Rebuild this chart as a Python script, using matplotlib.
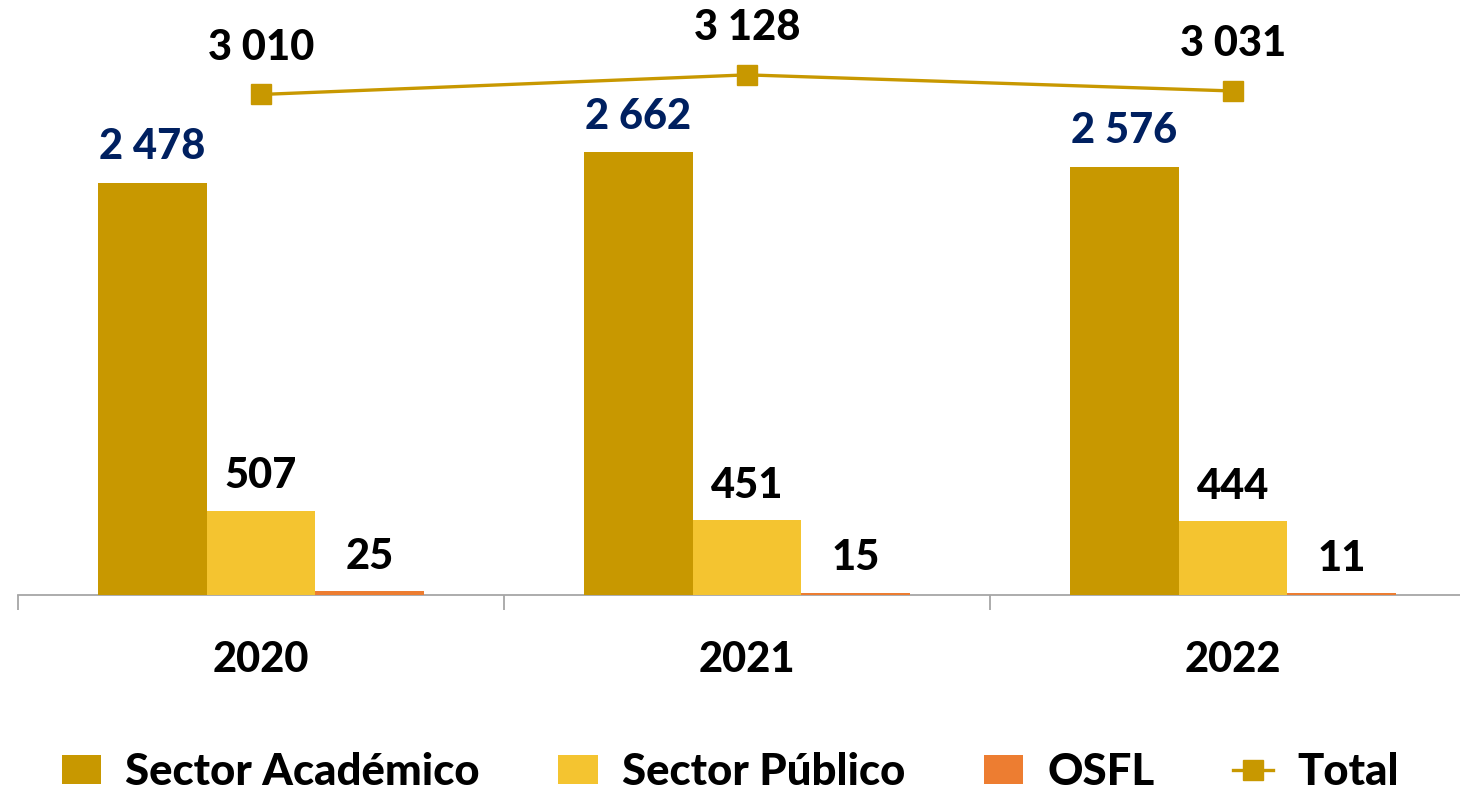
import matplotlib
matplotlib.use("Agg")
import matplotlib.pyplot as plt
from matplotlib.ticker import FixedLocator
import numpy as np

years = ["2020", "2021", "2022"]
academico = [2478, 2662, 2576]
publico = [507, 451, 444]
osfl = [25, 15, 11]
total = [3010, 3128, 3031]
series_names = ["Sector Académico", "Sector Público", "OSFL", "Total"]

c_acad = "#C89800"
c_pub = "#F4C430"
c_osfl = "#ED7D31"
c_total = "#C89800"
navy = "#002060"

plt.rcParams['font.family'] = ['Lato', 'DejaVu Sans']
WT = 900

W, H = 1460, 792
fig = plt.figure(figsize=(W/100, H/100), dpi=100)
ax_left, ax_right = 18, 1476
ax_bottom, ax_top = 595, 13
ax = fig.add_axes([ax_left/W, (H-ax_bottom)/H, (ax_right-ax_left)/W, (ax_bottom-ax_top)/H])

x = np.arange(len(years))
bw = 0.224
b1 = ax.bar(x - bw, academico, bw, color=c_acad, label=series_names[0], zorder=3)
b2 = ax.bar(x, publico, bw, color=c_pub, label=series_names[1], zorder=3)
b3 = ax.bar(x + bw, osfl, bw, color=c_osfl, label=series_names[2], zorder=3)
ln, = ax.plot(x, total, color=c_total, lw=2.4, marker='s', markersize=14,
              markeredgecolor=c_total, label=series_names[3], zorder=4)

def fmt(v):
    return f"{v:,}".replace(",", " ")

fs = 30
for xi, v in zip(x - bw, academico):
    ax.annotate(fmt(v), (xi, v), xytext=(0, 12), textcoords='offset points',
                ha='center', va='bottom', fontsize=fs, fontweight=WT, color=navy)
for xi, v in zip(x, publico):
    ax.annotate(fmt(v), (xi, v), xytext=(0, 11), textcoords='offset points',
                ha='center', va='bottom', fontsize=fs, fontweight=WT, color='black')
for xi, v in zip(x + bw, osfl):
    ax.annotate(fmt(v), (xi, v), xytext=(0, 11), textcoords='offset points',
                ha='center', va='bottom', fontsize=fs, fontweight=WT, color='black')
for xi, v in zip(x, total):
    ax.annotate(fmt(v), (xi, v), xytext=(0, 20), textcoords='offset points',
                ha='center', va='bottom', fontsize=fs, fontweight=WT, color='black')

ax.set_xlim(-0.5, 2.5)
ax.set_ylim(0, 3500)
ax.set_yticks([])
for s in ['top', 'right', 'left']:
    ax.spines[s].set_visible(False)
ax.spines['bottom'].set_color('#A6A6A6')
ax.spines['bottom'].set_linewidth(1.3)
ax.set_xticks(x)
ax.set_xticklabels(years, fontsize=fs, fontweight=WT)
ax.tick_params(axis='x', which='major', length=0, pad=33)
ax.xaxis.set_minor_locator(FixedLocator([-0.5, 0.5, 1.5, 2.5]))
ax.tick_params(axis='x', which='minor', length=11, width=1.3, color='#A6A6A6', direction='out')

fig.legend(handles=[b1, b2, b3, ln], labels=series_names, loc='center',
           bbox_to_anchor=(0.5, (H-772)/H), ncol=4, frameon=False,
           prop={'size': 31.5, 'weight': WT}, handlelength=0.9, handleheight=0.64,
           handletextpad=0.55, columnspacing=1.8, borderaxespad=0)

fig.savefig("out.png", dpi=100)
